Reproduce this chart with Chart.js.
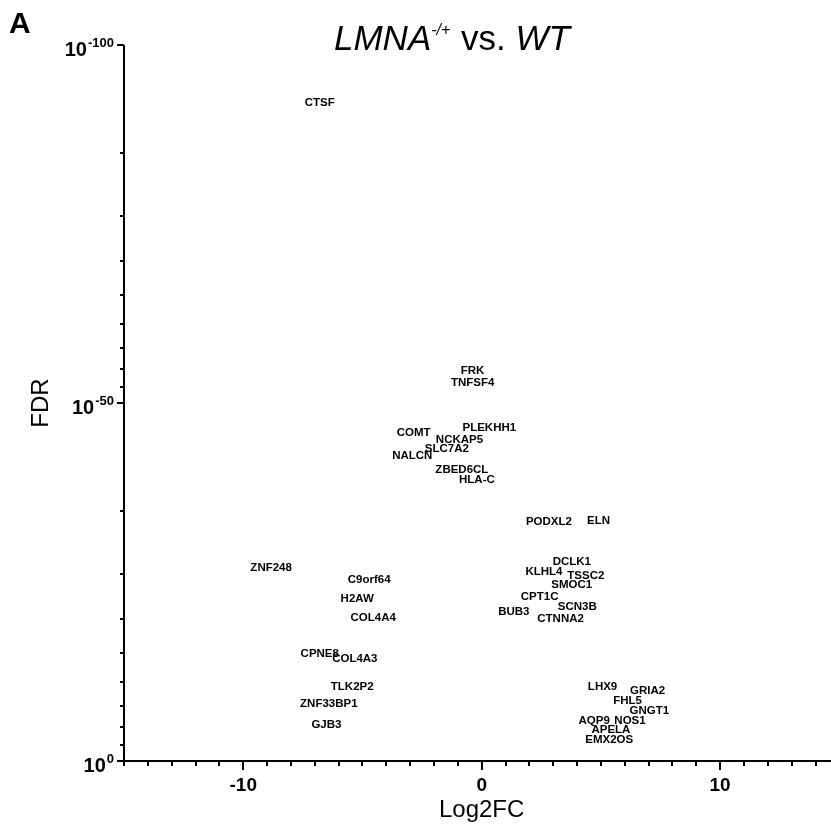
<!DOCTYPE html>
<html>
<head>
<meta charset="utf-8">
<script src="https://cdn.jsdelivr.net/npm/chart.js@4.4.1/dist/chart.umd.min.js"></script>
<style>
  body { margin: 0; background: #fff; }
  #wrap { width: 831px; height: 829px; position: relative; }
</style>
</head>
<body>
<div id="wrap"><canvas id="volcano"></canvas></div>
<script>
// gene labels, log2 fold change, and position on the FDR axis (0 = 10^0, 50 = 10^-50, 100 = 10^-100)
const genes = ["CTSF", "FRK", "TNFSF4", "PLEKHH1", "COMT", "NCKAP5", "SLC7A2", "NALCN", "ZBED6CL", "HLA-C",
  "PODXL2", "ELN", "DCLK1", "KLHL4", "TSSC2", "SMOC1", "CPT1C", "SCN3B", "BUB3", "CTNNA2",
  "ZNF248", "C9orf64", "H2AW", "COL4A4", "CPNE8", "COL4A3", "TLK2P2", "ZNF33BP1", "GJB3",
  "LHX9", "GRIA2", "FHL5", "GNGT1", "AQP9", "NOS1", "APELA", "EMX2OS"];
const log2fc = [-6.79, -0.38, -0.38, 0.32, -2.85, -0.93, -1.46, -2.91, -0.83, -0.2,
  2.82, 4.9, 3.78, 2.61, 4.37, 3.78, 2.43, 4.01, 1.35, 3.31,
  -8.83, -4.72, -5.22, -4.55, -6.79, -5.32, -5.43, -6.41, -6.51,
  5.07, 6.96, 6.12, 7.03, 4.72, 6.22, 5.42, 5.35];
const fdrPos = [91.9, 54.5, 52.8, 46.5, 45.9, 44.9, 43.6, 42.6, 40.7, 39.2,
  33.4, 33.6, 27.8, 26.4, 25.8, 24.6, 22.9, 21.5, 20.9, 19.8,
  27.0, 25.3, 22.7, 20.0, 15.0, 14.2, 10.3, 8.0, 5.1,
  10.4, 9.8, 8.4, 7.0, 5.6, 5.6, 4.3, 2.9];

const xTickLabels = [-10, 0, 10];
const yTickValues = [0, 50, 100];
const yTickExponents = ["0", "-50", "-100"];
const yMinorTicks = [34.9, 26.1, 19.9, 15.1, 11.1, 7.7, 4.8, 2.3,
  84.9, 76.1, 69.9, 65.1, 61.1, 57.7, 54.8, 52.3];

const FONT = '"Liberation Sans", Arial, sans-serif';

const drawAll = {
  id: 'drawAll',
  afterDraw(chart) {
    const ctx = chart.ctx;
    const xs = chart.scales.x, ys = chart.scales.y;
    const { left, right, top, bottom } = chart.chartArea;
    ctx.save();
    ctx.strokeStyle = '#000';
    ctx.fillStyle = '#000';
    ctx.lineWidth = 2;

    // axes
    ctx.beginPath();
    ctx.moveTo(left, top);
    ctx.lineTo(left, bottom + 1);
    ctx.moveTo(left - 1, bottom);
    ctx.lineTo(right, bottom);
    ctx.stroke();

    // x ticks
    ctx.beginPath();
    for (let v = -15; v <= 14; v++) {
      const px = Math.round(xs.getPixelForValue(v));
      const len = xTickLabels.includes(v) ? 9 : 5;
      ctx.moveTo(px, bottom);
      ctx.lineTo(px, bottom + len);
    }
    // y ticks
    yTickValues.forEach(v => {
      const py = Math.round(ys.getPixelForValue(v));
      ctx.moveTo(left - 7, py);
      ctx.lineTo(left, py);
    });
    yMinorTicks.forEach(v => {
      const py = Math.round(ys.getPixelForValue(v));
      ctx.moveTo(left - 4, py);
      ctx.lineTo(left, py);
    });
    ctx.stroke();

    // x tick labels
    ctx.font = 'bold 19px ' + FONT;
    ctx.textAlign = 'center';
    ctx.textBaseline = 'alphabetic';
    xTickLabels.forEach(v => {
      ctx.fillText(String(v), xs.getPixelForValue(v), bottom + 30);
    });

    // y tick labels 10^n
    yTickValues.forEach((v, i) => {
      const py = ys.getPixelForValue(v);
      ctx.font = 'bold 13px ' + FONT;
      const ew = ctx.measureText(yTickExponents[i]).width;
      ctx.textAlign = 'right';
      ctx.fillText(yTickExponents[i], left - 10, py + 2);
      ctx.font = 'bold 20px ' + FONT;
      ctx.fillText('10', left - 11 - ew, py + 11);
    });

    // axis titles
    ctx.font = '24px ' + FONT;
    ctx.textAlign = 'center';
    ctx.fillText('Log2FC', xs.getPixelForValue(0), 817);
    ctx.save();
    ctx.translate(48, (top + bottom) / 2);
    ctx.rotate(-Math.PI / 2);
    ctx.fillText('FDR', 0, 0);
    ctx.restore();

    // panel letter
    ctx.font = 'bold 30px ' + FONT;
    ctx.textAlign = 'left';
    ctx.fillText('A', 9, 33);

    // title
    let tx = 334;
    const tb = 50;
    const parts = [
      ['italic 35px ' + FONT, 'LMNA', 0],
      ['italic 16px ' + FONT, '-/+', -15],
      ['35px ' + FONT, ' vs. ', 0],
      ['italic 35px ' + FONT, 'WT', 0]
    ];
    parts.forEach(([f, t, dy]) => {
      ctx.font = f;
      ctx.fillText(t, tx, tb + dy);
      tx += ctx.measureText(t).width + (dy ? 1 : 0);
    });

    // gene labels
    ctx.font = 'bold 11.5px ' + FONT;
    ctx.textAlign = 'center';
    ctx.textBaseline = 'middle';
    chart.getDatasetMeta(0).data.forEach((pt, i) => {
      ctx.fillText(genes[i], pt.x, pt.y);
    });
    ctx.restore();
  }
};

new Chart(document.getElementById('volcano'), {
  type: 'scatter',
  data: {
    datasets: [{
      data: log2fc.map((x, i) => ({ x: x, y: fdrPos[i] })),
      pointRadius: 0,
      pointHoverRadius: 0
    }]
  },
  options: {
    responsive: true,
    maintainAspectRatio: false,
    animation: false,
    layout: { padding: { top: 45, left: 0, right: 0, bottom: 0 } },
    plugins: { legend: { display: false }, tooltip: { enabled: false } },
    scales: {
      x: {
        type: 'linear', min: -15, max: 14.65,
        grid: { display: false }, border: { display: false },
        ticks: { display: false },
        afterFit: s => { s.height = 68; }
      },
      y: {
        type: 'linear', min: 0, max: 100,
        grid: { display: false }, border: { display: false },
        ticks: { display: false },
        afterFit: s => { s.width = 124; }
      }
    }
  },
  plugins: [drawAll]
});
</script>
</body>
</html>
